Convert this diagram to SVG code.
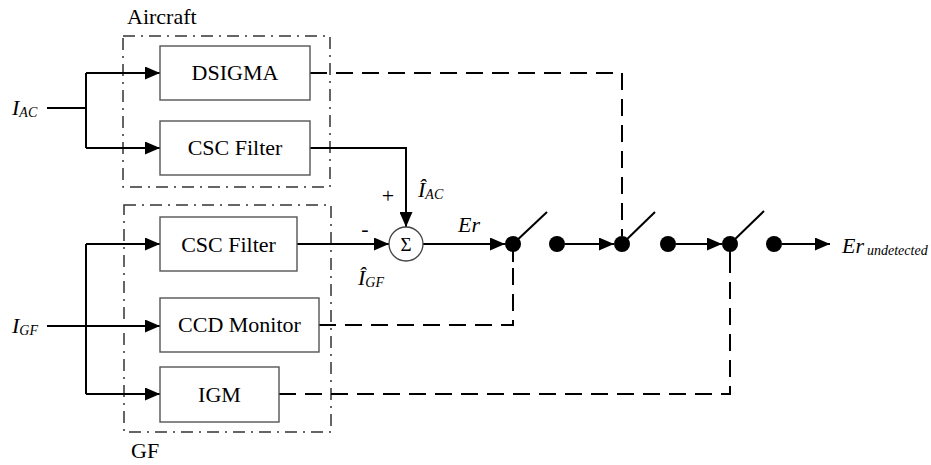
<svg xmlns="http://www.w3.org/2000/svg" width="931" height="465" viewBox="0 0 931 465">
<defs>
<marker id="ah" markerUnits="userSpaceOnUse" markerWidth="15" markerHeight="13" refX="15" refY="6.5" orient="auto">
<path d="M0,0 L15,6.5 L0,13 z" fill="#000"/>
</marker>
</defs>
<style>
.box{fill:#fff;stroke:#555;stroke-width:1.4}
.grp{fill:none;stroke:#333;stroke-width:1.5;stroke-dasharray:12 6 2 6}
.ln{fill:none;stroke:#000;stroke-width:2}
.dl{fill:none;stroke:#000;stroke-width:2;stroke-dasharray:17 9}
.t{font-family:'Liberation Serif','Times New Roman',serif;font-size:22px;fill:#000}
.ti{font-family:'Liberation Serif','Times New Roman',serif;font-style:italic;fill:#000}
.dot{fill:#000}
</style>
<rect width="931" height="465" fill="#fff"/>
<g id="groups">
<rect class="grp" x="123" y="36" width="207" height="151"/>
<text class="t" x="127" y="24">Aircraft</text>
<rect class="grp" x="124" y="205" width="207" height="227"/>
<text class="t" x="131" y="458">GF</text>
</g>
<g id="connectors">
<path class="ln" d="M47,108 H86"/>
<path class="ln" d="M86,73 V148"/>
<path class="ln" d="M86,73 H160" marker-end="url(#ah)"/>
<path class="ln" d="M86,148 H160" marker-end="url(#ah)"/>
<path class="ln" d="M47,326 H160" marker-end="url(#ah)"/>
<path class="ln" d="M86,244 V394"/>
<path class="ln" d="M86,244 H160" marker-end="url(#ah)"/>
<path class="ln" d="M86,394 H160" marker-end="url(#ah)"/>
<path class="ln" d="M310,148 H406 V227" marker-end="url(#ah)"/>
<path class="ln" d="M297,244 H389" marker-end="url(#ah)"/>
<path class="ln" d="M423,244 H505" marker-end="url(#ah)"/>
<path class="ln" d="M565,244 H614" marker-end="url(#ah)"/>
<path class="ln" d="M676,244 H722" marker-end="url(#ah)"/>
<path class="ln" d="M782,244 H830" marker-end="url(#ah)"/>
<path class="ln" d="M513,244 L547,212"/>
<path class="ln" d="M622,244 L655,212"/>
<path class="ln" d="M730,244 L764,211"/>
<path class="ln" d="M513,244 V262"/>
<path class="ln" d="M730,244 V262"/>
<path class="dl" d="M310,73 H622 V236"/>
<path class="dl" d="M319,325 H513 V262"/>
<path class="dl" d="M279,394 H730 V262"/>
</g>
<g id="dsigma">
<rect class="box" x="160" y="46" width="150" height="54"/>
<text class="t" x="235" y="80" text-anchor="middle">DSIGMA</text>
</g>
<g id="csc-ac">
<rect class="box" x="160" y="121" width="150" height="54"/>
<text class="t" x="235" y="155" text-anchor="middle">CSC Filter</text>
</g>
<g id="csc-gf">
<rect class="box" x="160" y="217" width="137" height="54"/>
<text class="t" x="228.5" y="252" text-anchor="middle">CSC Filter</text>
</g>
<g id="ccd">
<rect class="box" x="160" y="298" width="159" height="54"/>
<text class="t" x="239.5" y="332" text-anchor="middle">CCD Monitor</text>
</g>
<g id="igm">
<rect class="box" x="160" y="367" width="119" height="55"/>
<text class="t" x="219.5" y="402" text-anchor="middle">IGM</text>
</g>
<g id="sum">
<circle cx="406" cy="244" r="17" fill="#fff" stroke="#444" stroke-width="1.3"/>
<text class="t" x="406" y="251" text-anchor="middle" style="font-size:19px">Σ</text>
<text class="t" x="388" y="203" text-anchor="middle">+</text>
<text class="t" x="365" y="236" text-anchor="middle">-</text>
</g>
<g id="switches">
<circle class="dot" cx="513" cy="244" r="8"/>
<circle class="dot" cx="557" cy="244" r="8"/>
<circle class="dot" cx="622" cy="244" r="8"/>
<circle class="dot" cx="668" cy="244" r="8"/>
<circle class="dot" cx="730" cy="244" r="8"/>
<circle class="dot" cx="774" cy="244" r="8"/>
</g>
<g id="labels">
<text class="ti" x="12" y="115" font-size="22">I<tspan font-size="14" dy="2">AC</tspan></text>
<text class="ti" x="12" y="333" font-size="22">I<tspan font-size="14" dy="2">GF</tspan></text>
<text class="ti" x="418" y="197" font-size="22">Î<tspan font-size="14" dy="2">AC</tspan></text>
<text class="ti" x="358" y="285" font-size="22">Î<tspan font-size="14" dy="2">GF</tspan></text>
<text class="ti" x="458" y="232" font-size="22">Er</text>
<text class="ti" x="842" y="253" font-size="22">Er<tspan font-size="14" dx="3" dy="2">undetected</tspan></text>
</g>
</svg>
